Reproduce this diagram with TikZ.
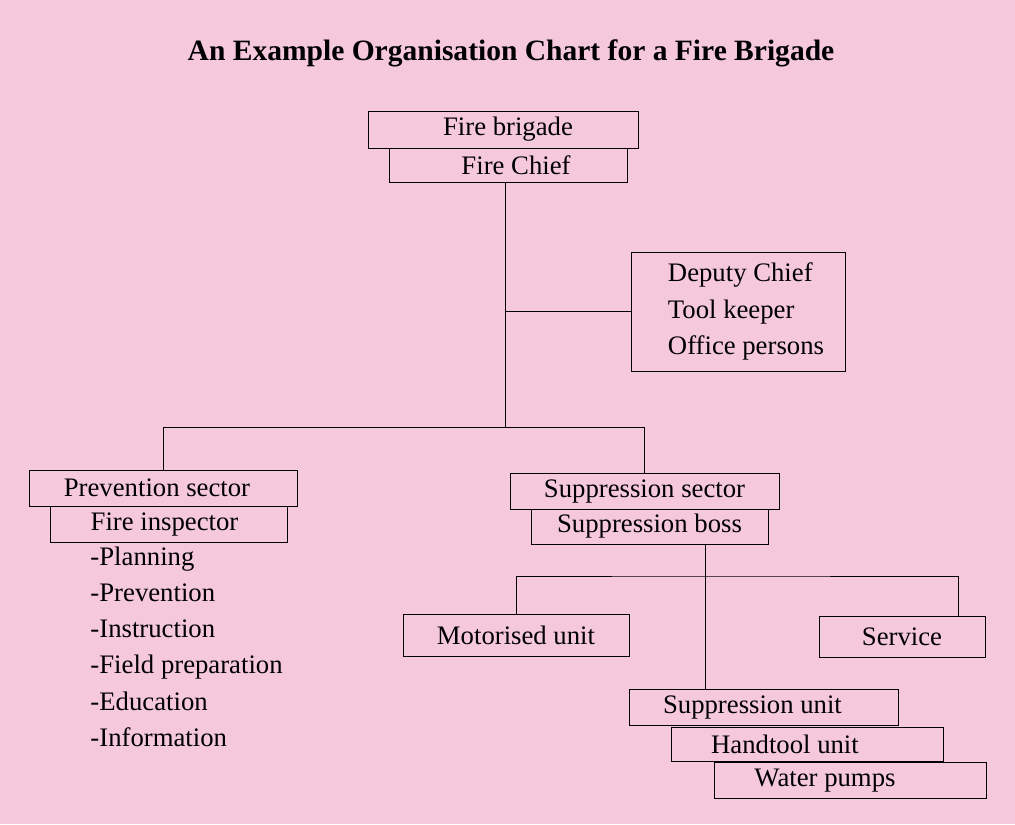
\documentclass[tikz,border=0pt]{standalone}
\usepackage{fontspec}
\setmainfont{Liberation Serif}
\usetikzlibrary{positioning}
\definecolor{chartpink}{RGB}{245,200,220}
\newlength\tshiftunit
\setlength\tshiftunit{0.05cm}

\tikzset{
  unitbox/.style 2 args={draw, minimum width=#1*0.025cm, minimum height=#2*0.025cm,
    inner sep=0pt, font=\fontsize{19}{22}\selectfont},
  tshift/.style={execute at begin node={\hspace*{#1\tshiftunit}}},
  tasklist/.style={align=left, inner sep=0pt, font=\fontsize{19}{25.8}\selectfont},
}

\begin{document}
\begin{tikzpicture}[x=0.025cm, y=-0.025cm, line width=0.7pt]
      \fill [chartpink] (0, 0) rectangle (1015, 824);
      \useasboundingbox (0, 0) rectangle (1015, 824);

      \node (title) at (511, 53) {\fontsize{21}{24}\selectfont\bfseries An Example Organisation Chart for a Fire Brigade};

      % top of the chart
      \node [unitbox={270}{37}, tshift=5] (brigade) at (503, 129.5) {Fire brigade};
      \node [unitbox={238}{34}, tshift=8] (chief) at (508, 165) {Fire Chief};
      \node [unitbox={214}{119}, tasklist] (deputy) at (738, 311.5) {\hspace*{0.4cm}Deputy Chief\\\hspace*{0.4cm}Tool keeper\\\hspace*{0.4cm}Office persons};

      % the two sectors
      \node [unitbox={268}{36}, tshift=-6] (prevsec) at (163, 488) {Prevention sector};
      \node [unitbox={237}{36}, tshift=-4] (inspector) at (168.5, 524) {Fire inspector};
      \node [tasklist, anchor=north west] (tasks) at (90, 546) {-Planning\\-Prevention\\-Instruction\\-Field preparation\\-Education\\-Information};

      \node [unitbox={269}{36}] (suppsec) at (644.5, 491) {Suppression sector};
      \node [unitbox={237}{35}] (boss) at (649.5, 526.5) {Suppression boss};

      % units under the suppression boss
      \node [unitbox={226}{42}] (motor) at (516, 635) {Motorised unit};
      \node [unitbox={166}{41}] (service) at (902, 636.5) {Service};
      \node [unitbox={269}{36}, tshift=-11] (suppunit) at (763.5, 707) {Suppression unit};
      \node [unitbox={272}{34}, tshift=-22] (handtool) at (807, 744.5) {Handtool unit};
      \node [unitbox={272}{36}, tshift=-25] (pumps) at (850, 780.5) {Water pumps};

      \coordinate (trunk) at (505, 427);
      \coordinate (drop) at (705, 576);

      \draw (chief.south -| trunk) -- (trunk);
      \draw (trunk |- deputy.west) -- (deputy.west);
      \draw (prevsec.north) -- (prevsec.north |- trunk) -| (suppsec.north);

      \draw (boss.south -| drop) -- (drop |- suppunit.north);
      \draw (motor.north) |- (drop) -| ([xshift=-27*0.025cm]service.north east);
\end{tikzpicture}
\end{document}
